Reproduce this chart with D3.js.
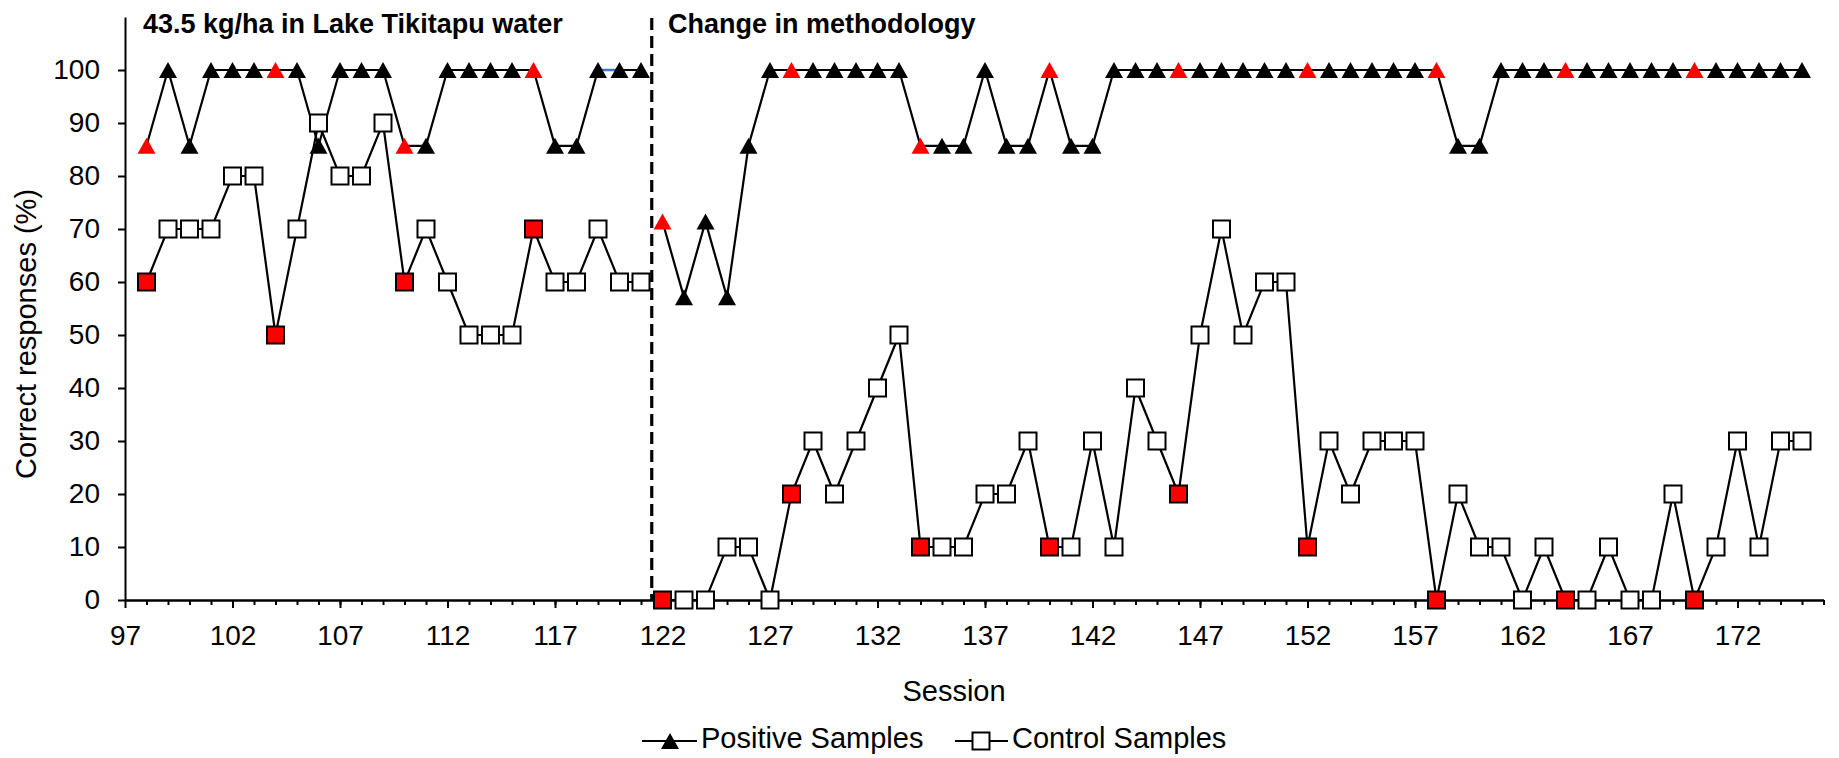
<!DOCTYPE html>
<html>
<head>
<meta charset="utf-8">
<script src="https://cdn.jsdelivr.net/npm/d3@7"></script>
<style>
body { margin: 0; background: #fff; }
svg text { font-family: "Liberation Sans", Arial, sans-serif; fill: #000; }
</style>
</head>
<body>
<svg id="chart" width="1839" height="758"></svg>
<script>
// sessions shown on the chart
var sessions = [98, 99, 100, 101, 102, 103, 104, 105, 106, 107, 108, 109, 110, 111, 112, 113,
    114, 115, 116, 117, 118, 119, 120, 121, 122, 123, 124, 125, 126, 127, 128, 129, 130, 131,
    132, 133, 134, 135, 136, 137, 138, 139, 140, 141, 142, 143, 144, 145, 146, 147, 148, 149,
    150, 151, 152, 153, 154, 155, 156, 157, 158, 159, 160, 161, 162, 163, 164, 165, 166, 167,
    168, 169, 170, 171, 172, 173, 174, 175];

// correct responses (%) for positive samples
var positive = [85.7, 100, 85.7, 100, 100, 100, 100, 100, 85.7, 100, 100, 100, 85.7, 85.7, 100, 100,
    100, 100, 100, 85.7, 85.7, 100, 100, 100, 71.4, 57.1, 71.4, 57.1, 85.7, 100, 100, 100, 100, 100,
    100, 100, 85.7, 85.7, 85.7, 100, 85.7, 85.7, 100, 85.7, 85.7, 100, 100, 100, 100, 100, 100, 100,
    100, 100, 100, 100, 100, 100, 100, 100, 100, 85.7, 85.7, 100, 100, 100, 100, 100, 100, 100,
    100, 100, 100, 100, 100, 100, 100, 100];

// correct responses (%) for control samples
var control = [60, 70, 70, 70, 80, 80, 50, 70, 90, 80, 80, 90, 60, 70, 60, 50,
    50, 50, 70, 60, 60, 70, 60, 60, 0, 0, 0, 10, 10, 0, 20, 30, 20, 30,
    40, 50, 10, 10, 10, 20, 20, 30, 10, 10, 30, 10, 40, 30, 20, 50, 70, 50,
    60, 60, 10, 30, 20, 30, 30, 30, 0, 20, 10, 10, 0, 10, 0, 0, 10, 0,
    0, 20, 0, 10, 30, 10, 30, 30];

// sessions whose markers are shown in red
var redSessions = [98, 104, 110, 116, 122, 128, 134, 140, 146, 152, 158, 164, 170];

// last session before the change in methodology (lines are not joined across it)
var lastBeforeChange = 121;
var changeAt = 121.5;

// short blue piece of the positive line
var blueSegment = [119, 120];

var xTickValues = [97, 102, 107, 112, 117, 122, 127, 132, 137, 142, 147, 152, 157, 162, 167, 172];
var yTickValues = [0, 10, 20, 30, 40, 50, 60, 70, 80, 90, 100];

var svg = d3.select("#chart");
var plotLeft = 125, plotRight = 1823.5, plotTop = 17, plotBottom = 600;

var x = d3.scaleLinear().domain([97, 176]).range([plotLeft, plotRight]);
var y = d3.scaleLinear().domain([0, 110]).range([plotBottom, plotTop]);

// y axis
svg.append("g")
    .attr("transform", "translate(" + plotLeft + ",0)")
    .call(d3.axisLeft(y).tickValues(yTickValues).tickSize(7).tickPadding(18).tickSizeOuter(0));

// x axis: minor ticks, then major ticks with labels
svg.append("g")
    .attr("transform", "translate(0," + plotBottom + ")")
    .call(d3.axisBottom(x).tickValues(d3.range(98, 177)).tickSize(5).tickFormat("").tickSizeOuter(0));
svg.append("g")
    .attr("transform", "translate(0," + plotBottom + ")")
    .call(d3.axisBottom(x).tickValues(xTickValues).tickSize(8).tickPadding(17).tickSizeOuter(0));

svg.selectAll(".domain, .tick line")
    .attr("stroke", "#000")
    .attr("stroke-width", 2);
svg.selectAll(".tick text")
    .style("font-size", "28px");

// dashed line for change in methodology
svg.append("line")
    .attr("x1", x(changeAt)).attr("x2", x(changeAt))
    .attr("y1", 18).attr("y2", plotBottom)
    .attr("stroke", "#000")
    .attr("stroke-width", 3.2)
    .attr("stroke-dasharray", "12,6");

// build point data
var posData = sessions.map(function (s, i) { return { s: s, v: positive[i] }; });
var conData = sessions.map(function (s, i) { return { s: s, v: control[i] }; });

function splitAtChange(data) {
    return [
        data.filter(function (d) { return d.s <= lastBeforeChange; }),
        data.filter(function (d) { return d.s > lastBeforeChange; })
    ];
}

var line = d3.line()
    .x(function (d) { return x(d.s); })
    .y(function (d) { return y(d.v); });

function isRed(d) { return redSessions.indexOf(d.s) >= 0; }

var triW = 18, triH = 16, sq = 17;
function triPath(cx, cy) {
    return "M" + cx + "," + (cy - triH / 2) +
        "L" + (cx + triW / 2) + "," + (cy + triH / 2) +
        "L" + (cx - triW / 2) + "," + (cy + triH / 2) + "Z";
}

// positive series
svg.append("g").selectAll("path")
    .data(splitAtChange(posData))
    .enter().append("path")
    .attr("d", line)
    .attr("fill", "none")
    .attr("stroke", "#000")
    .attr("stroke-width", 2.2);

svg.append("path")
    .attr("d", line(posData.filter(function (d) { return blueSegment.indexOf(d.s) >= 0; })))
    .attr("fill", "none")
    .attr("stroke", "#4472C4")
    .attr("stroke-width", 2.5);

svg.append("g").selectAll("path")
    .data(posData)
    .enter().append("path")
    .attr("d", function (d) { return triPath(x(d.s), y(d.v)); })
    .attr("fill", function (d) { return isRed(d) ? "#FF0000" : "#000"; });

// control series
svg.append("g").selectAll("path")
    .data(splitAtChange(conData))
    .enter().append("path")
    .attr("d", line)
    .attr("fill", "none")
    .attr("stroke", "#000")
    .attr("stroke-width", 2.2);

svg.append("g").selectAll("rect")
    .data(conData)
    .enter().append("rect")
    .attr("x", function (d) { return x(d.s) - sq / 2; })
    .attr("y", function (d) { return y(d.v) - sq / 2; })
    .attr("width", sq)
    .attr("height", sq)
    .attr("fill", function (d) { return isRed(d) ? "#FF0000" : "#FFFFFF"; })
    .attr("stroke", "#000")
    .attr("stroke-width", 2);

// annotations
svg.append("text")
    .attr("x", 143).attr("y", 33)
    .style("font-size", "27px").style("font-weight", "bold")
    .text("43.5 kg/ha in Lake Tikitapu water");
svg.append("text")
    .attr("x", 668).attr("y", 33)
    .style("font-size", "27px").style("font-weight", "bold")
    .text("Change in methodology");

// axis titles
svg.append("text")
    .attr("transform", "translate(26,334) rotate(-90)")
    .attr("text-anchor", "middle")
    .attr("dy", "0.35em")
    .style("font-size", "29px")
    .text("Correct responses (%)");
svg.append("text")
    .attr("x", 954).attr("y", 701)
    .attr("text-anchor", "middle")
    .style("font-size", "29px")
    .text("Session");

// legend
var legY = 741;
var leg = svg.append("g");
leg.append("line").attr("x1", 642).attr("x2", 697).attr("y1", legY).attr("y2", legY)
    .attr("stroke", "#000").attr("stroke-width", 2.2);
leg.append("path").attr("d", triPath(670, legY)).attr("fill", "#000");
leg.append("text").attr("x", 701).attr("y", 748).style("font-size", "29px").text("Positive Samples");

leg.append("line").attr("x1", 955).attr("x2", 1008).attr("y1", legY).attr("y2", legY)
    .attr("stroke", "#000").attr("stroke-width", 2.2);
leg.append("rect").attr("x", 981 - sq / 2).attr("y", legY - sq / 2)
    .attr("width", sq).attr("height", sq)
    .attr("fill", "#fff").attr("stroke", "#000").attr("stroke-width", 2);
leg.append("text").attr("x", 1012).attr("y", 748).style("font-size", "29px").text("Control Samples");
</script>
</body>
</html>
